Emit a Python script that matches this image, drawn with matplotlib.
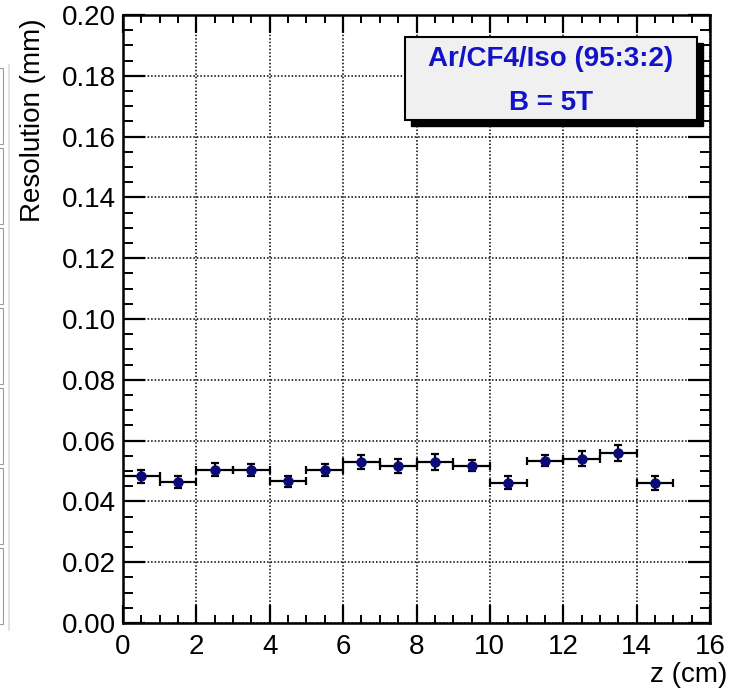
import matplotlib
matplotlib.use("Agg")
import matplotlib.pyplot as plt
from matplotlib.patches import Rectangle
from matplotlib.ticker import MultipleLocator

plt.rcParams['font.family'] = ['Liberation Sans', 'DejaVu Sans']

# Data
z_centers = [0.5, 1.5, 2.5, 3.5, 4.5, 5.5, 6.5, 7.5, 8.5, 9.5, 10.5, 11.5, 12.5, 13.5, 14.5]
z_halfwidth = [0.5] * 15
resolution = [0.0482, 0.0464, 0.0504, 0.0502, 0.0466, 0.0502, 0.0530, 0.0518,
              0.0530, 0.0518, 0.0462, 0.0534, 0.0541, 0.0559, 0.0462]
res_err = [0.0020, 0.0019, 0.0022, 0.0020, 0.0019, 0.0020, 0.0023, 0.0023,
           0.0026, 0.0018, 0.0020, 0.0019, 0.0025, 0.0026, 0.0023]
legend_lines = ["Ar/CF4/Iso (95:3:2)", "B = 5T"]
x_label = "z (cm)"
y_label = "Resolution (mm)"
y_ticks = [0.0, 0.02, 0.04, 0.06, 0.08, 0.10, 0.12, 0.14, 0.16, 0.18, 0.20]
y_ticklabels = ["0.00", "0.02", "0.04", "0.06", "0.08", "0.10", "0.12",
                "0.14", "0.16", "0.18", "0.20"]

W, H = 729, 690
FS = 20
fig = plt.figure(figsize=(W / 100, H / 100), dpi=100)
fig.patch.set_facecolor('white')

ax_l, ax_r, ax_t, ax_b = 123, 710, 15, 623
ax = fig.add_axes([ax_l / W, 1 - ax_b / H, (ax_r - ax_l) / W, (ax_b - ax_t) / H])
ax.set_xlim(0, 16)
ax.set_ylim(0, 0.20)

ax.xaxis.set_major_locator(MultipleLocator(2))
ax.xaxis.set_minor_locator(MultipleLocator(0.5))
ax.set_yticks(y_ticks)
ax.set_yticklabels(y_ticklabels)
ax.yaxis.set_minor_locator(MultipleLocator(0.005))

ax.grid(True, which='major', color='black', linestyle=(0, (1, 1.3)), linewidth=1.1)
ax.set_axisbelow(True)

for s in ax.spines.values():
    s.set_linewidth(1.8)

ax.tick_params(axis='x', which='major', direction='in', length=13, width=1.6,
               top=True, labelsize=FS, pad=8)
ax.tick_params(axis='x', which='minor', direction='in', length=6, width=1.4, top=True)
ax.tick_params(axis='y', which='major', direction='in', length=16, width=1.6,
               right=True, labelsize=FS, pad=5)
ax.tick_params(axis='y', which='minor', direction='in', length=7.5, width=1.4, right=True)

ax.errorbar(z_centers, resolution, xerr=z_halfwidth, yerr=res_err, fmt='o',
            color='#0a0a78', markersize=6.5, ecolor='black', elinewidth=1.6,
            capsize=2.6, capthick=1.6, zorder=5)

# Axis titles (ROOT-style, at axis ends)
fig.text(33 / W, 1 - 18 / H, y_label, rotation=90, ha='center', va='top', fontsize=FS)
fig.text(727 / W, 1 - 675 / H, x_label, ha='right', va='center', fontsize=FS)

# Legend-like pave with shadow
bx0, by0, bx1, by1 = 405, 37, 697, 120
sh = 6
fig.patches.append(Rectangle(((bx0 + sh) / W, 1 - (by1 + sh) / H), (bx1 - bx0) / W,
                             (by1 - by0) / H, transform=fig.transFigure,
                             facecolor='black', edgecolor='black', zorder=10))
fig.patches.append(Rectangle((bx0 / W, 1 - by1 / H), (bx1 - bx0) / W, (by1 - by0) / H,
                             transform=fig.transFigure, facecolor='#f0f0f0',
                             edgecolor='black', linewidth=1.5, zorder=11))
cx = (bx0 + bx1) / 2 / W
fig.text(cx, 1 - 59 / H, legend_lines[0], ha='center', va='center', fontsize=FS,
         fontweight='bold', color='#1212c8', zorder=12)
fig.text(cx, 1 - 103 / H, legend_lines[1], ha='center', va='center', fontsize=FS,
         fontweight='bold', color='#1212c8', zorder=12)

# Faint remnants of a neighbouring panel at the left edge
for y0 in [68, 148, 228, 308, 388, 468, 548]:
    fig.patches.append(Rectangle((-2 / W, 1 - (y0 + 76) / H), 5 / W, 76 / H,
                                 transform=fig.transFigure, facecolor='none',
                                 edgecolor='#9a9aa8', linewidth=0.8))
fig.lines.append(plt.Line2D([9 / W, 9 / W], [1 - 630 / H, 1 - 65 / H],
                            transform=fig.transFigure, color='#dddddd', linewidth=1.2))

fig.savefig('out.png', dpi=100)
